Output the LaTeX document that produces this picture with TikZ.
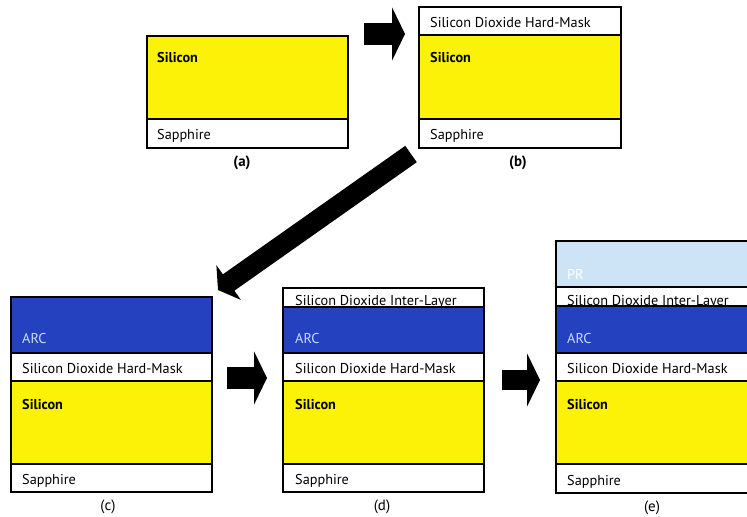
\documentclass[tikz,border=0pt]{standalone}
\usepackage{fontspec}
\setmainfont{PT Sans}
\usetikzlibrary{arrows.meta}
\definecolor{siyellow}{RGB}{252,242,8}
\definecolor{arcblue}{RGB}{36,66,192}
\definecolor{prblue}{RGB}{205,228,246}
\definecolor{arctext}{RGB}{200,220,255}
\tikzset{
  sep/.style={line width=1.2bp},
  frame/.style={draw,line width=1.4bp},
  ltext/.style={anchor=base west,inner sep=0pt,font=\fontsize{14.3}{16}\selectfont},
  sitext/.style={ltext,font=\fontsize{14.3}{16}\selectfont\bfseries},
  sublabel/.style={font=\fontsize{15}{17}\selectfont},
  sublabelb/.style={font=\fontsize{15}{17}\selectfont\bfseries},
  blockarrow/.style={line width=#1,-{Triangle[length=13bp,width=53bp]}},
}
\begin{document}
\begin{tikzpicture}[x=1bp,y=-1bp]
\useasboundingbox (0,0) rectangle (747,517);
\clip (0,0) rectangle (747,517);
% ---------- (a)
\fill[siyellow] (147,36) rectangle (348,119);
\draw[sep] (147,119) -- (348,119);
\draw[frame] (147,36) rectangle (348,148);
\node[sitext] (aSi) at (157,63) {Silicon};
\node[ltext] (aSa) at (157,140) {Sapphire};
\node[sublabelb] (la) at (242,163) {(a)};
% ---------- (b)
\fill[siyellow] (419,35) rectangle (621,119);
\draw[sep] (419,35) -- (621,35) (419,119) -- (621,119);
\draw[frame] (419,7) rectangle (621,148);
\node[ltext] (bHM) at (430,28) {Silicon Dioxide Hard-Mask};
\node[sitext] (bSi) at (430,63) {Silicon};
\node[ltext] (bSa) at (430,140) {Sapphire};
\node[sublabelb] (lb) at (518,163) {(b)};
% ---------- (c)
\fill[arcblue] (11,297) rectangle (212,353);
\fill[siyellow] (11,381) rectangle (212,464);
\draw[sep] (11,353) -- (212,353) (11,381) -- (212,381) (11,464) -- (212,464);
\draw[frame] (11,297) rectangle (212,492);
\node[ltext,text=arctext] (cARC) at (22,343) {ARC};
\node[ltext] (cHM) at (22,373) {Silicon Dioxide Hard-Mask};
\node[sitext] (cSi) at (22,409) {Silicon};
\node[ltext] (cSa) at (22,484) {Sapphire};
\node[sublabel] (lc) at (108,507) {(c)};
% ---------- (d)
\node[ltext] (dIL) at (295,305) {Silicon Dioxide Inter-Layer};
\fill[arcblue] (283,307) rectangle (484,353);
\fill[siyellow] (283,381) rectangle (484,464);
\draw[sep] (283,307) -- (484,307) (283,353) -- (484,353) (283,381) -- (484,381) (283,464) -- (484,464);
\draw[frame] (283,288) rectangle (484,492);
\node[ltext,text=arctext] (dARC) at (295,343) {ARC};
\node[ltext] (dHM) at (295,373) {Silicon Dioxide Hard-Mask};
\node[sitext] (dSi) at (295,409) {Silicon};
\node[ltext] (dSa) at (295,484) {Sapphire};
\node[sublabel] (ld) at (382,507) {(d)};
% ---------- (e)
\fill[prblue] (556,241) rectangle (760,287);
\node[ltext] (eIL) at (567,305) {Silicon Dioxide Inter-Layer};
\fill[arcblue] (556,306) rectangle (760,353);
\fill[siyellow] (556,381) rectangle (760,464);
\draw[sep] (556,287) -- (760,287) (556,306) -- (760,306) (556,353) -- (760,353) (556,381) -- (760,381) (556,464) -- (760,464);
\draw[frame] (556,241) rectangle (760,493);
\node[ltext,text=white] (ePR) at (567,280) {PR};
\node[ltext,text=arctext] (eARC) at (567,343) {ARC};
\node[ltext] (eHM) at (567,373) {Silicon Dioxide Hard-Mask};
\node[sitext] (eSi) at (567,409) {Silicon};
\node[ltext] (eSa) at (567,485) {Sapphire};
\node[sublabel] (le) at (652,508) {(e)};
% ---------- arrows
\coordinate (a1s) at (364,34);
\coordinate (a1e) at (405,34);
\coordinate (a2s) at (227,378);
\coordinate (a2e) at (267,378);
\coordinate (a3s) at (502,380);
\coordinate (a3e) at (540,380);
\coordinate (a4s) at (411,154);
\coordinate (a4e) at (218,290);
\draw[blockarrow=22bp] (a1s) -- (a1e);
\draw[blockarrow=22bp] (a2s) -- (a2e);
\draw[blockarrow=20bp] (a3s) -- (a3e);
\draw[line width=20bp,-{Triangle[length=13bp,width=42bp]}] (a4s) -- (a4e);
\end{tikzpicture}
\end{document}
